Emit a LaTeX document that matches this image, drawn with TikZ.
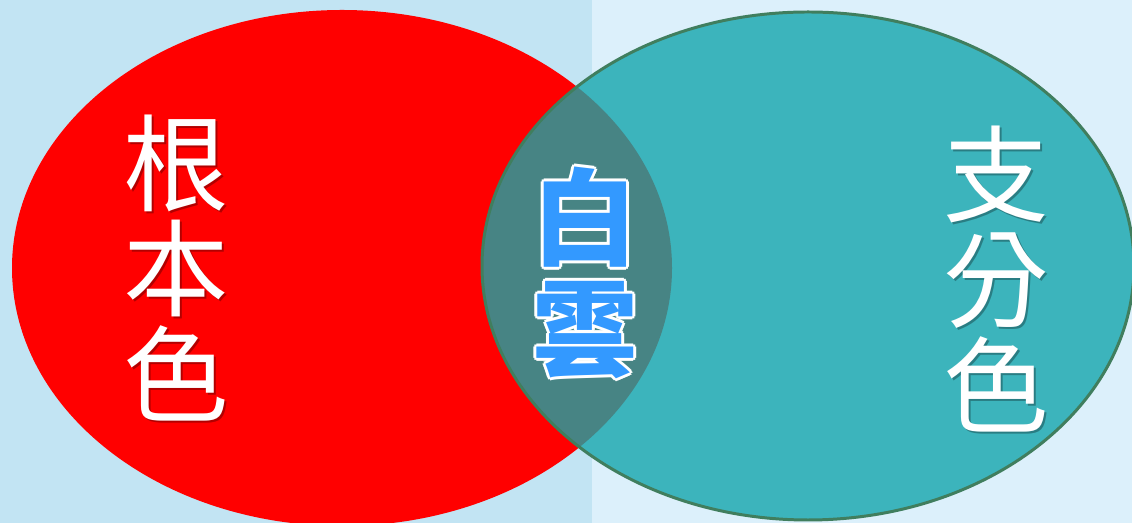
\documentclass[tikz,border=0pt]{standalone}
\usepackage{fontspec}
\usepackage{tikz}
\usepackage{xcolor}
\usetikzlibrary{calc}
\newfontfamily\cjk{Noto Sans CJK TC}

\definecolor{bgleft}{RGB}{194,228,243}
\definecolor{bgright}{RGB}{220,240,251}
\definecolor{rootred}{RGB}{255,0,0}
\definecolor{branchteal}{RGB}{60,180,188}
\definecolor{lensgray}{RGB}{71,132,132}
\definecolor{rimgreen}{RGB}{64,126,94}
\definecolor{cloudblue}{RGB}{51,153,255}

\begin{document}
\begin{tikzpicture}[x=0.02cm, y=0.02cm,
  every node/.style={font=\cjk\fontsize{60}{60}\selectfont, inner sep=0pt, align=center},
  shade/.style={text=black, opacity=0.3},
  halo/.style={text=white, font=\cjk\bfseries\fontsize{60}{63}\selectfont}]
\useasboundingbox (0,0) rectangle (1132,523);
% background halves
\fill[bgleft] (0,0) rectangle (592,523);
\fill[bgright] (592,0) rectangle (1132,523);
% the two ellipses and their overlap
\fill[rootred] (342,255) ellipse [x radius=330, y radius=258];
\fill[branchteal] (808,257) ellipse [x radius=326, y radius=254];
\begin{scope}
  \clip (342,255) ellipse [x radius=330, y radius=258];
  \fill[lensgray] (808,257) ellipse [x radius=326, y radius=254];
\end{scope}
\draw[rimgreen, line width=1.7pt] (808,257) ellipse [x radius=326, y radius=254];

% labels
\node[shade] (rootshade) at (178,253) {根\\本\\色};
\node[text=white] (root) at (176,255) {根\\本\\色};
\node[shade] (branchshade) at (998,242) {支\\分\\色};
\node[text=white] (branch) at (996,244) {支\\分\\色};
\foreach \a in {0,45,...,315}
  \node[halo] (halo\a) at ($(585,250)+(\a:2.8)$) {白\\雲};
\node[halo, text=cloudblue] (cloud) at (585,250) {白\\雲};
\end{tikzpicture}
\end{document}
